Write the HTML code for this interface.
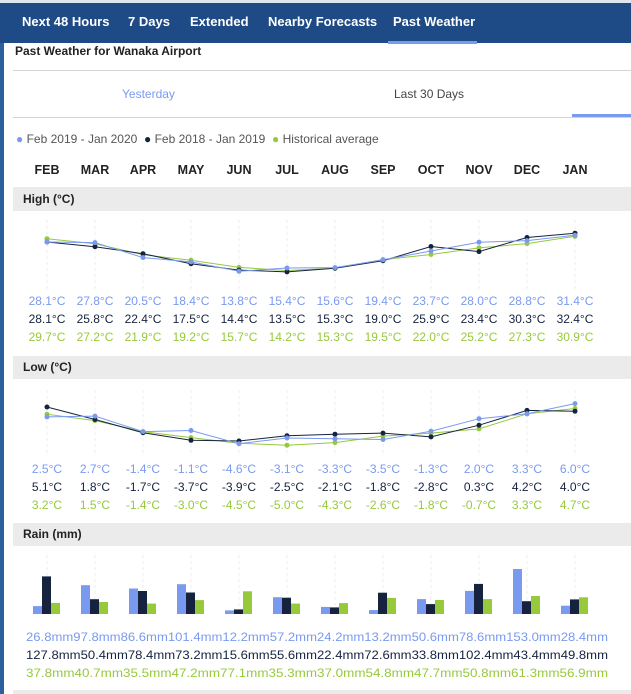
<!DOCTYPE html>
<html><head><meta charset="utf-8"><style>
body{margin:0;width:631px;height:694px;overflow:hidden;background:#fff;font-family:"Liberation Sans",sans-serif;position:relative}
.a{position:absolute;white-space:nowrap}
</style></head><body>
<div class="a" style="left:0;top:0;width:631px;height:3px;background:#dfe6ee"></div>
<div class="a" style="left:0;top:3px;width:631px;height:40px;background:#1e4a86"></div>
<div class="a" style="left:0;top:43px;width:4px;height:651px;background:#2d5f9c"></div>
<div class="a" style="left:388px;top:41px;width:89px;height:3px;background:#7a9af0"></div>
<div class="a" style="top:14px;left:22px;color:#fff;font-size:13px;font-weight:bold">Next 48 Hours</div>
<div class="a" style="top:14px;left:128px;color:#fff;font-size:13px;font-weight:bold">7 Days</div>
<div class="a" style="top:14px;left:190px;color:#fff;font-size:13px;font-weight:bold">Extended</div>
<div class="a" style="top:14px;left:268px;color:#fff;font-size:13px;font-weight:bold">Nearby Forecasts</div>
<div class="a" style="top:14px;left:393px;color:#fff;font-size:13px;font-weight:bold">Past Weather</div>
<div class="a" style="top:44px;left:15px;color:#222;font-size:12px;font-weight:bold">Past Weather for Wanaka Airport</div>
<div class="a" style="left:13px;top:70px;width:618px;height:1px;background:#d4d4d4"></div>
<div class="a" style="left:13px;top:117px;width:618px;height:1px;background:#d4d4d4"></div>
<div class="a" style="left:572px;top:114px;width:59px;height:3px;background:#7a9af0"></div>
<div class="a" style="top:87px;left:122px;color:#7a9af0;font-size:12px">Yesterday</div>
<div class="a" style="top:87px;left:394px;color:#444;font-size:12px">Last 30 Days</div>
<div class="a" style="top:132px;left:16px;color:#555;font-size:12px"><span style="color:#7a9af0">●</span> Feb 2019 - Jan 2020 &nbsp;<span style="color:#16233f">●</span> Feb 2018 - Jan 2019 &nbsp;<span style="color:#97c93d">●</span> Historical average</div>
<div class="a" style="left:13px;top:187px;width:618px;height:24px;background:#ebebeb"></div>
<div class="a" style="left:13px;top:356px;width:618px;height:23px;background:#ebebeb"></div>
<div class="a" style="left:13px;top:523px;width:618px;height:23px;background:#ebebeb"></div>
<div class="a" style="left:13px;top:690px;width:618px;height:4px;background:#ebebeb"></div>
<div class="a" style="top:192px;left:23px;color:#222;font-size:12px;font-weight:bold">High (°C)</div>
<div class="a" style="top:360px;left:23px;color:#222;font-size:12px;font-weight:bold">Low (°C)</div>
<div class="a" style="top:527px;left:23px;color:#222;font-size:12px;font-weight:bold">Rain (mm)</div>
<svg class="a" style="left:0;top:0" width="631" height="694" font-family="Liberation Sans,sans-serif">
<g stroke="#eee" stroke-dasharray="3,3">
<path d="M47 220V290M95 220V290M143 220V290M191 220V290M239 220V290M287 220V290M335 220V290M383 220V290M431 220V290M479 220V290M527 220V290M575 220V290"/>
<path d="M47 390V455M95 390V455M143 390V455M191 390V455M239 390V455M287 390V455M335 390V455M383 390V455M431 390V455M479 390V455M527 390V455M575 390V455"/>
<path d="M47 555V614M95 555V614M143 555V614M191 555V614M239 555V614M287 555V614M335 555V614M383 555V614M431 555V614M479 555V614M527 555V614M575 555V614"/>
</g>
<g font-size="12.5" font-weight="bold" fill="#222" text-anchor="middle">
<text x="47" y="174">FEB</text><text x="95" y="174">MAR</text><text x="143" y="174">APR</text><text x="191" y="174">MAY</text><text x="239" y="174">JUN</text><text x="287" y="174">JUL</text><text x="335" y="174">AUG</text><text x="383" y="174">SEP</text><text x="431" y="174">OCT</text><text x="479" y="174">NOV</text><text x="527" y="174">DEC</text><text x="575" y="174">JAN</text>
</g>
<g fill="none" stroke-width="1">
<polyline stroke="#97c93d" points="47,238.7 95,243.8 143,254.7 191,260.2 239,267.4 287,270.5 335,268.2 383,259.6 431,254.5 479,247.9 527,243.6 575,236.3"/>
<polyline stroke="#16233f" points="47,242 95,246.7 143,253.7 191,263.7 239,270.1 287,271.9 335,268.2 383,260.7 431,246.5 479,251.6 527,237.5 575,233.2"/>
<polyline stroke="#7a9af0" points="47,242 95,242.6 143,257.6 191,261.9 239,271.3 287,268 335,267.6 383,259.8 431,251 479,242.2 527,240.6 575,235.2"/>
<polyline stroke="#97c93d" points="47,414.2 95,420.6 143,431.6 191,437.6 239,443.3 287,445.2 335,442.6 383,436.1 431,433.1 479,428.9 527,413.8 575,408.5"/>
<polyline stroke="#16233f" points="47,407 95,419.5 143,432.7 191,440.3 239,441 287,435.8 335,434.2 383,433.1 431,436.9 479,425.2 527,410.4 575,411.2"/>
<polyline stroke="#7a9af0" points="47,416.9 95,416.1 143,431.6 191,430.5 239,443.7 287,438 335,438.8 383,439.5 431,431.2 479,418.7 527,413.8 575,403.6"/>
</g>
<g fill="#97c93d"><circle cx="47" cy="238.7" r="2.5"/><circle cx="95" cy="243.8" r="2.5"/><circle cx="143" cy="254.7" r="2.5"/><circle cx="191" cy="260.2" r="2.5"/><circle cx="239" cy="267.4" r="2.5"/><circle cx="287" cy="270.5" r="2.5"/><circle cx="335" cy="268.2" r="2.5"/><circle cx="383" cy="259.6" r="2.5"/><circle cx="431" cy="254.5" r="2.5"/><circle cx="479" cy="247.9" r="2.5"/><circle cx="527" cy="243.6" r="2.5"/><circle cx="575" cy="236.3" r="2.5"/>
<circle cx="47" cy="414.2" r="2.5"/><circle cx="95" cy="420.6" r="2.5"/><circle cx="143" cy="431.6" r="2.5"/><circle cx="191" cy="437.6" r="2.5"/><circle cx="239" cy="443.3" r="2.5"/><circle cx="287" cy="445.2" r="2.5"/><circle cx="335" cy="442.6" r="2.5"/><circle cx="383" cy="436.1" r="2.5"/><circle cx="431" cy="433.1" r="2.5"/><circle cx="479" cy="428.9" r="2.5"/><circle cx="527" cy="413.8" r="2.5"/><circle cx="575" cy="408.5" r="2.5"/></g>
<g fill="#16233f"><circle cx="47" cy="242" r="2.5"/><circle cx="95" cy="246.7" r="2.5"/><circle cx="143" cy="253.7" r="2.5"/><circle cx="191" cy="263.7" r="2.5"/><circle cx="239" cy="270.1" r="2.5"/><circle cx="287" cy="271.9" r="2.5"/><circle cx="335" cy="268.2" r="2.5"/><circle cx="383" cy="260.7" r="2.5"/><circle cx="431" cy="246.5" r="2.5"/><circle cx="479" cy="251.6" r="2.5"/><circle cx="527" cy="237.5" r="2.5"/><circle cx="575" cy="233.2" r="2.5"/>
<circle cx="47" cy="407" r="2.5"/><circle cx="95" cy="419.5" r="2.5"/><circle cx="143" cy="432.7" r="2.5"/><circle cx="191" cy="440.3" r="2.5"/><circle cx="239" cy="441" r="2.5"/><circle cx="287" cy="435.8" r="2.5"/><circle cx="335" cy="434.2" r="2.5"/><circle cx="383" cy="433.1" r="2.5"/><circle cx="431" cy="436.9" r="2.5"/><circle cx="479" cy="425.2" r="2.5"/><circle cx="527" cy="410.4" r="2.5"/><circle cx="575" cy="411.2" r="2.5"/></g>
<g fill="#7a9af0"><circle cx="47" cy="242" r="2.5"/><circle cx="95" cy="242.6" r="2.5"/><circle cx="143" cy="257.6" r="2.5"/><circle cx="191" cy="261.9" r="2.5"/><circle cx="239" cy="271.3" r="2.5"/><circle cx="287" cy="268" r="2.5"/><circle cx="335" cy="267.6" r="2.5"/><circle cx="383" cy="259.8" r="2.5"/><circle cx="431" cy="251" r="2.5"/><circle cx="479" cy="242.2" r="2.5"/><circle cx="527" cy="240.6" r="2.5"/><circle cx="575" cy="235.2" r="2.5"/>
<circle cx="47" cy="416.9" r="2.5"/><circle cx="95" cy="416.1" r="2.5"/><circle cx="143" cy="431.6" r="2.5"/><circle cx="191" cy="430.5" r="2.5"/><circle cx="239" cy="443.7" r="2.5"/><circle cx="287" cy="438" r="2.5"/><circle cx="335" cy="438.8" r="2.5"/><circle cx="383" cy="439.5" r="2.5"/><circle cx="431" cy="431.2" r="2.5"/><circle cx="479" cy="418.7" r="2.5"/><circle cx="527" cy="413.8" r="2.5"/><circle cx="575" cy="403.6" r="2.5"/></g>
<g fill="#7a9af0">
<rect x="33" y="606.1" width="9" height="7.9"/><rect x="81" y="585.2" width="9" height="28.8"/><rect x="129" y="588.5" width="9" height="25.5"/><rect x="177" y="584.2" width="9" height="29.8"/><rect x="225" y="610.4" width="9" height="3.6"/><rect x="273" y="597.2" width="9" height="16.8"/><rect x="321" y="606.9" width="9" height="7.1"/><rect x="369" y="610.1" width="9" height="3.9"/><rect x="417" y="599.1" width="9" height="14.9"/><rect x="465" y="590.9" width="9" height="23.1"/><rect x="513" y="569" width="9" height="45"/><rect x="561" y="605.7" width="9" height="8.3"/></g>
<g fill="#16233f">
<rect x="42" y="576.4" width="9" height="37.6"/><rect x="90" y="599.2" width="9" height="14.8"/><rect x="138" y="591" width="9" height="23"/><rect x="186" y="592.5" width="9" height="21.5"/><rect x="234" y="609.4" width="9" height="4.6"/><rect x="282" y="597.7" width="9" height="16.3"/><rect x="330" y="607.4" width="9" height="6.6"/><rect x="378" y="592.7" width="9" height="21.3"/><rect x="426" y="604.1" width="9" height="9.9"/><rect x="474" y="583.9" width="9" height="30.1"/><rect x="522" y="601.2" width="9" height="12.8"/><rect x="570" y="599.4" width="9" height="14.6"/></g>
<g fill="#97c93d">
<rect x="51" y="602.9" width="9" height="11.1"/><rect x="99" y="602" width="9" height="12"/><rect x="147" y="603.6" width="9" height="10.4"/><rect x="195" y="600.1" width="9" height="13.9"/><rect x="243" y="591.3" width="9" height="22.7"/><rect x="291" y="603.6" width="9" height="10.4"/><rect x="339" y="603.1" width="9" height="10.9"/><rect x="387" y="597.9" width="9" height="16.1"/><rect x="435" y="600" width="9" height="14"/><rect x="483" y="599.1" width="9" height="14.9"/><rect x="531" y="596" width="9" height="18"/><rect x="579" y="597.3" width="9" height="16.7"/></g>
<g font-size="12" text-anchor="middle">
<g fill="#7a9af0"><text x="47" y="305">28.1°C</text><text x="95" y="305">27.8°C</text><text x="143" y="305">20.5°C</text><text x="191" y="305">18.4°C</text><text x="239" y="305">13.8°C</text><text x="287" y="305">15.4°C</text><text x="335" y="305">15.6°C</text><text x="383" y="305">19.4°C</text><text x="431" y="305">23.7°C</text><text x="479" y="305">28.0°C</text><text x="527" y="305">28.8°C</text><text x="575" y="305">31.4°C</text></g>
<g fill="#16233f"><text x="47" y="323">28.1°C</text><text x="95" y="323">25.8°C</text><text x="143" y="323">22.4°C</text><text x="191" y="323">17.5°C</text><text x="239" y="323">14.4°C</text><text x="287" y="323">13.5°C</text><text x="335" y="323">15.3°C</text><text x="383" y="323">19.0°C</text><text x="431" y="323">25.9°C</text><text x="479" y="323">23.4°C</text><text x="527" y="323">30.3°C</text><text x="575" y="323">32.4°C</text></g>
<g fill="#97c93d"><text x="47" y="341">29.7°C</text><text x="95" y="341">27.2°C</text><text x="143" y="341">21.9°C</text><text x="191" y="341">19.2°C</text><text x="239" y="341">15.7°C</text><text x="287" y="341">14.2°C</text><text x="335" y="341">15.3°C</text><text x="383" y="341">19.5°C</text><text x="431" y="341">22.0°C</text><text x="479" y="341">25.2°C</text><text x="527" y="341">27.3°C</text><text x="575" y="341">30.9°C</text></g>
<g fill="#7a9af0"><text x="47" y="473">2.5°C</text><text x="95" y="473">2.7°C</text><text x="143" y="473">-1.4°C</text><text x="191" y="473">-1.1°C</text><text x="239" y="473">-4.6°C</text><text x="287" y="473">-3.1°C</text><text x="335" y="473">-3.3°C</text><text x="383" y="473">-3.5°C</text><text x="431" y="473">-1.3°C</text><text x="479" y="473">2.0°C</text><text x="527" y="473">3.3°C</text><text x="575" y="473">6.0°C</text></g>
<g fill="#16233f"><text x="47" y="491">5.1°C</text><text x="95" y="491">1.8°C</text><text x="143" y="491">-1.7°C</text><text x="191" y="491">-3.7°C</text><text x="239" y="491">-3.9°C</text><text x="287" y="491">-2.5°C</text><text x="335" y="491">-2.1°C</text><text x="383" y="491">-1.8°C</text><text x="431" y="491">-2.8°C</text><text x="479" y="491">0.3°C</text><text x="527" y="491">4.2°C</text><text x="575" y="491">4.0°C</text></g>
<g fill="#97c93d"><text x="47" y="509">3.2°C</text><text x="95" y="509">1.5°C</text><text x="143" y="509">-1.4°C</text><text x="191" y="509">-3.0°C</text><text x="239" y="509">-4.5°C</text><text x="287" y="509">-5.0°C</text><text x="335" y="509">-4.3°C</text><text x="383" y="509">-2.6°C</text><text x="431" y="509">-1.8°C</text><text x="479" y="509">-0.7°C</text><text x="527" y="509">3.3°C</text><text x="575" y="509">4.7°C</text></g>
</g>
<g font-size="12">
<text x="26" y="641" fill="#7a9af0" textLength="582" lengthAdjust="spacingAndGlyphs">26.8mm97.8mm86.6mm101.4mm12.2mm57.2mm24.2mm13.2mm50.6mm78.6mm153.0mm28.4mm</text>
<text x="26" y="659" fill="#16233f" textLength="582" lengthAdjust="spacingAndGlyphs">127.8mm50.4mm78.4mm73.2mm15.6mm55.6mm22.4mm72.6mm33.8mm102.4mm43.4mm49.8mm</text>
<text x="26" y="677" fill="#97c93d" textLength="582" lengthAdjust="spacingAndGlyphs">37.8mm40.7mm35.5mm47.2mm77.1mm35.3mm37.0mm54.8mm47.7mm50.8mm61.3mm56.9mm</text>
</g>
</svg>
</body></html>
